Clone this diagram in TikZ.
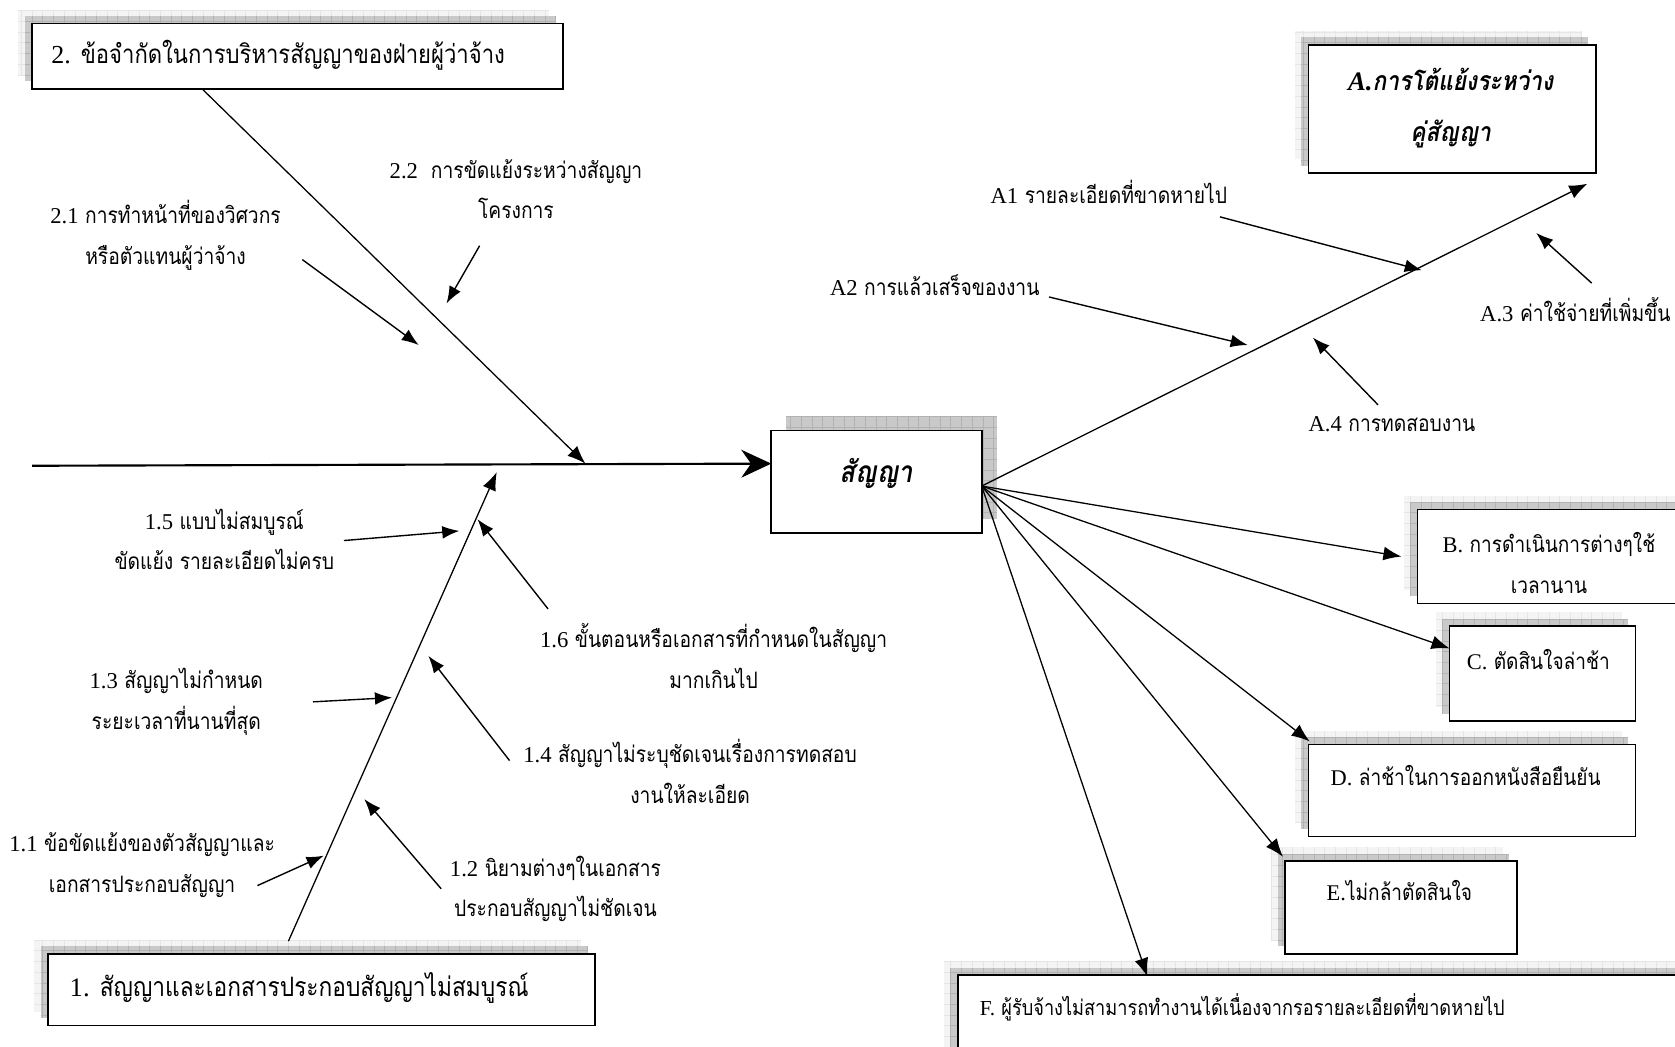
\documentclass[tikz,border=0pt]{standalone}
\usepackage{fontspec}
\newfontfamily\thaifont[Script=Thai,FakeStretch=0.85]{Loma}
\newfontfamily\latinfont{Liberation Serif}
\newcommand\latn[1]{{\latinfont #1}}
\usetikzlibrary{arrows.meta}

% two stacked grid-textured shadow layers behind a box (corners x1,y1,x2,y2)
\newcommand\castshadow[4]{%
  \fill[lightshade] ({#1-13},{#2-13}) rectangle ({#3-13},{#4-13});
  \draw[lightgrid] ({#1-13},{#4-13}) grid ({#3-13},{#2-13});
  \fill[darkshade] ({#1-7},{#2-7}) rectangle ({#3-7},{#4-7});
  \draw[darkgrid] ({#1-7},{#4-7}) grid ({#3-7},{#2-7});
}

\tikzset{
  lightshade/.style={fill=gray!9},
  lightgrid/.style={draw=gray!20, line width=0.5pt, step=10pt},
  darkshade/.style={fill=gray!42},
  darkgrid/.style={draw=gray!60, line width=0.5pt, step=10pt},
  boxframe/.style={draw=black, line width=1.6pt, fill=white, inner sep=0pt},
  lab/.style={font=\thaifont\fontsize{21.2}{38}\selectfont, align=center, inner sep=0pt},
  boxtext/.style={font=\thaifont\fontsize{21}{38}\selectfont, align=center, inner sep=0pt},
  bigtext/.style={font=\thaifont\fontsize{25}{30}\selectfont, inner sep=0pt},
  headtext/.style={font=\thaifont\bfseries\itshape\fontsize{25}{48}\selectfont, align=center, inner sep=0pt},
  twig/.style={line width=1.3pt, -{Latex[length=16pt,width=12pt]}},
  bone/.style={line width=1.2pt, -{Latex[length=17pt,width=13pt]}},
  spine/.style={line width=2pt, -{Stealth[length=28pt,width=26pt,inset=9pt]}},
}

\begin{document}
\begin{tikzpicture}[x=1pt,y=-1pt]
\useasboundingbox (0,0) rectangle (1568,980);
\clip (0,0) rectangle (1568,980);

% ---------- shadows ----------
\castshadow{30}{22}{527}{83}
\castshadow{1225}{42}{1494}{162}
\castshadow{1327}{477}{1590}{565}
\castshadow{1357}{586}{1531}{675}
\castshadow{1225}{697}{1531}{783}
\castshadow{1203}{806}{1420}{893}
\castshadow{897}{913}{1600}{1010}
\castshadow{45}{893}{557}{960}
\fill[darkshade] (736,390) rectangle (933,486);
\draw[darkgrid] (736,486) grid (933,390);

% ---------- boxes ----------
\node[boxframe, minimum width=497, minimum height=61] (b2) at (278.5,52.5) {};
\node[boxframe, minimum width=269, minimum height=120] (bA) at (1359.5,102) {};
\node[boxframe, minimum width=197, minimum height=96] (bS) at (820.5,451) {};
\node[boxframe, minimum width=263, minimum height=88] (bB) at (1458.5,521) {};
\node[boxframe, minimum width=174, minimum height=89] (bC) at (1444,630.5) {};
\node[boxframe, minimum width=306, minimum height=86] (bD) at (1378,740) {};
\node[boxframe, minimum width=217, minimum height=87] (bE) at (1311.5,849.5) {};
\node[boxframe, minimum width=703, minimum height=97] (bF) at (1248.5,961.5) {};
\node[boxframe, minimum width=512, minimum height=67] (b1) at (301,926.5) {};

% ---------- box texts ----------
\node[bigtext, font=\thaifont\fontsize{24.3}{30}\selectfont, anchor=west] (b2t) at (48,52) {\latn{2.} ข้อจำกัดในการบริหารสัญญาของฝ่ายผู้ว่าจ้าง};
\node[bigtext, anchor=west] (b1t) at (65,925) {\latn{1.} สัญญาและเอกสารประกอบสัญญาไม่สมบูรณ์};
\node[headtext] (bAt) at (1358,101) {\latn{A.}การโต้แย้งระหว่าง\\คู่สัญญา};
\node[headtext, font=\thaifont\bfseries\itshape\fontsize{28}{34}\selectfont] (bSt) at (820,443) {สัญญา};
\node[boxtext] (bBt) at (1450,527) {\latn{B.} การดำเนินการต่างๆใช้\\เวลานาน};
\node[boxtext] (bCt) at (1440,617) {\latn{C.} ตัดสินใจล่าช้า};
\node[boxtext] (bDt) at (1372,726) {\latn{D.} ล่าช้าในการออกหนังสือยืนยัน};
\node[boxtext] (bEt) at (1310,834) {\latn{E.}ไม่กล้าตัดสินใจ};
\node[boxtext, font=\thaifont\fontsize{20}{38}\selectfont, anchor=west] (bFt) at (917,943) {\latn{F.} ผู้รับจ้างไม่สามารถทำงานได้เนื่องจากรอรายละเอียดที่ขาดหายไป};

% ---------- cause labels ----------
\node[lab] (t21) at (155,220) {\latn{2.1} การทำหน้าที่ของวิศวกร\\หรือตัวแทนผู้ว่าจ้าง};
\node[lab] (t22) at (483,177) {\latn{2.2}\ \ การขัดแย้งระหว่างสัญญา\\โครงการ};
\node[lab] (t15) at (210,505) {\latn{1.5} แบบไม่สมบูรณ์\\ขัดแย้ง รายละเอียดไม่ครบ};
\node[lab] (t16) at (668,614) {\latn{1.6} ขั้นตอนหรือเอกสารที่กำหนดในสัญญา\\มากเกินไป};
\node[lab] (t13) at (165,657) {\latn{1.3} สัญญาไม่กำหนด\\ระยะเวลาที่นานที่สุด};
\node[lab] (t14) at (646,722) {\latn{1.4} สัญญาไม่ระบุชัดเจนเรื่องการทดสอบ\\งานให้ละเอียด};
\node[lab] (t11) at (133,810) {\latn{1.1} ข้อขัดแย้งของตัวสัญญาและ\\เอกสารประกอบสัญญา};
\node[lab] (t12) at (520,832) {\latn{1.2} นิยามต่างๆในเอกสาร\\ประกอบสัญญาไม่ชัดเจน};
\node[lab] (tA1) at (1038,180) {\latn{A1} รายละเอียดที่ขาดหายไป};
\node[lab] (tA2) at (875,267) {\latn{A2} การแล้วเสร็จของงาน};
\node[lab, anchor=east] (tA3) at (1564,290) {\latn{A.3} ค่าใช้จ่ายที่เพิ่มขึ้น};
\node[lab] (tA4) at (1303,397) {\latn{A.4} การทดสอบงาน};

% ---------- anchor points on the bones ----------
\coordinate (sp0) at (30,436);
\coordinate (spE) at (722,434);
\coordinate (k2s) at (190,84);
\coordinate (k2e) at (548,434);
\coordinate (k1s) at (270,881);
\coordinate (k1e) at (465,442);
\coordinate (hub) at (919,455);
\coordinate (hA) at (1486,172);
\coordinate (hB) at (1312,521);
\coordinate (hC) at (1357,607);
\coordinate (hD) at (1226,694);
\coordinate (hE) at (1201,802);
\coordinate (hF) at (1074,914);

\coordinate (s21) at (283,243);  \coordinate (e21) at (392,323);
\coordinate (s22) at (449,230);  \coordinate (e22) at (418,284);
\coordinate (s15) at (322,506);  \coordinate (e15) at (430,497);
\coordinate (s16) at (513,570);  \coordinate (e16) at (447,486);
\coordinate (s13) at (293,657);  \coordinate (e13) at (367,653);
\coordinate (s14) at (477,712);  \coordinate (e14) at (401,614);
\coordinate (s11) at (241,829);  \coordinate (e11) at (303,801);
\coordinate (s12) at (413,832);  \coordinate (e12) at (341,748);
\coordinate (sA1) at (1142,203); \coordinate (eA1) at (1331,253);
\coordinate (sA2) at (982,278);  \coordinate (eA2) at (1168,323);
\coordinate (sA3) at (1490,265); \coordinate (eA3) at (1438,218);
\coordinate (sA4) at (1290,379); \coordinate (eA4) at (1229,316);

% ---------- connectors ----------
\draw[spine] (sp0) -- (spE);
\draw[bone] (k2s) -- (k2e);
\draw[bone] (k1s) -- (k1e);
\foreach \k in {21,22,15,16,13,14,11,12,A1,A2,A3,A4}
  \draw[twig] (s\k) -- (e\k);
\foreach \k in {A,B,C,D,E,F}
  \draw[bone] (hub) -- (h\k);
\end{tikzpicture}
\end{document}
